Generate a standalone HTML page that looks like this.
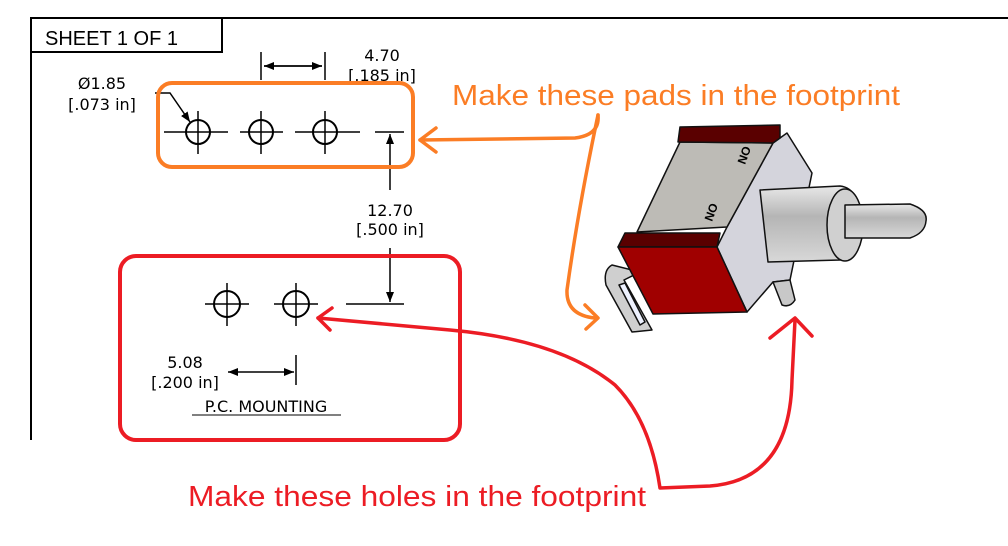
<!DOCTYPE html>
<html><head><meta charset="utf-8">
<style>
html,body{margin:0;padding:0;background:#fff;}
svg{display:block;font-family:"Liberation Sans","DejaVu Sans",sans-serif;}
.dim{font-family:"DejaVu Sans","Liberation Sans",sans-serif;}
</style></head>
<body>
<svg width="1008" height="546" viewBox="0 0 1008 546" xmlns="http://www.w3.org/2000/svg">
<defs>
<marker id="ah" markerWidth="10" markerHeight="8" refX="10" refY="4" orient="auto" markerUnits="userSpaceOnUse"><path d="M0,0 L10,4 L0,8 Z" fill="#000"/></marker>
<linearGradient id="cyl" x1="0" y1="0" x2="0" y2="1"><stop offset="0" stop-color="#e8e8e8"/><stop offset="0.4" stop-color="#b5b5b5"/><stop offset="1" stop-color="#d8d8d8"/></linearGradient>
</defs>
<g stroke="#000" stroke-width="2" fill="none">
<path d="M31,440 L31,18 L1008,18"/>
<rect x="31" y="18" width="191" height="34"/>
</g>
<text x="45" y="45" font-size="20" fill="#000">SHEET 1 OF 1</text>

<g stroke="#000" stroke-width="1.5" fill="none">
<circle cx="198" cy="132" r="12" stroke-width="2"/>
<circle cx="261" cy="132" r="12" stroke-width="2"/>
<circle cx="325" cy="132" r="12" stroke-width="2"/>
<path d="M164,132 H228 M240,132 H283 M295,132 H360 M375,132 H404"/>
<path d="M198,111 V154 M261,111 V154 M325,111 V154"/>
</g>
<g stroke="#000" stroke-width="1.5" fill="none">
<path d="M261,52 V80 M325,52 V80"/>
<path d="M264,66 H322" marker-end="url(#ah)"/>
<path d="M322,66 H264" marker-end="url(#ah)"/>
</g>
<text class="dim" x="382" y="61" font-size="16" text-anchor="middle">4.70</text>
<text class="dim" x="382" y="81" font-size="16" text-anchor="middle">[.185 in]</text>
<text class="dim" x="102" y="89" font-size="16" text-anchor="middle">Ø1.85</text>
<text class="dim" x="102" y="110" font-size="16" text-anchor="middle">[.073 in]</text>
<path d="M155,93 H170 L190,122" stroke="#000" stroke-width="1.5" fill="none" marker-end="url(#ah)"/>
<g stroke="#000" stroke-width="1.5" fill="none">
<path d="M390,190 V134" marker-end="url(#ah)"/>
<path d="M390,248 V302" marker-end="url(#ah)"/>
<path d="M346,304 H404"/>
</g>
<text class="dim" x="390" y="216" font-size="16" text-anchor="middle">12.70</text>
<text class="dim" x="390" y="235" font-size="16" text-anchor="middle">[.500 in]</text>
<g stroke="#000" stroke-width="1.5" fill="none">
<circle cx="227" cy="304" r="13" stroke-width="2"/>
<circle cx="296" cy="304" r="13" stroke-width="2"/>
<path d="M205,304 H249 M274,304 H318 M227,283 V326 M296,283 V326"/>
<path d="M296,355 V385"/>
<path d="M260,372 H294" marker-end="url(#ah)"/>
<path d="M260,372 H228" marker-end="url(#ah)"/>
</g>
<text class="dim" x="185" y="368" font-size="16" text-anchor="middle">5.08</text>
<text class="dim" x="185" y="388" font-size="16" text-anchor="middle">[.200 in]</text>
<text class="dim" x="266" y="412" font-size="16" text-anchor="middle">P.C. MOUNTING</text>
<line x1="192" y1="415" x2="341" y2="415" stroke="#000" stroke-width="1"/>

<rect x="158" y="83" width="255" height="84" rx="14" fill="none" stroke="#fb7d25" stroke-width="4"/>
<rect x="120" y="256" width="340" height="184" rx="16" fill="none" stroke="#ec1c24" stroke-width="4"/>

<g stroke="#111" stroke-width="1.5" stroke-linejoin="round">
<path d="M612,265 Q603,270 606,285 L632,332 L652,330 L624,280 L640,272 Z" fill="#cfcfcf"/>
<path d="M619,285 L640,325 L645,322 L625,283 Z" fill="#eef2ff"/>
<path d="M727,227 L773,143 L787,133 L812,173 L790,280 L773,282 L747,312 L717,247 Z" fill="#d4d4dc"/>
<path d="M773,282 L790,280 L795,300 Q790,308 782,305 Z" fill="#c8c8c8"/>
<path d="M680,142 L773,143 L727,227 L637,232 Z" fill="#bdbbb6"/>
<path d="M680,127 L780,125 L780,138 L773,143 L678,142 Z" fill="#5a0000"/>
<path d="M625,233 L720,233 L717,247 L618,247 Z" fill="#5a0000"/>
<path d="M618,247 L717,247 L747,312 L653,314 Z" fill="#a00000"/>
<path d="M760,190 L840,186 Q860,188 862,225 Q858,258 840,260 L768,262 Z" fill="url(#cyl)"/>
<ellipse cx="845" cy="225" rx="18" ry="36" fill="#d0d0d0"/>
<path d="M845,205 L910,204 Q928,210 926,221 Q925,233 910,238 L845,238 Z" fill="url(#cyl)"/>
<text x="745" y="165" font-size="12" font-weight="bold" stroke="none" fill="#000" transform="rotate(-70 745 165)">NO</text>
<text x="712" y="222" font-size="12" font-weight="bold" stroke="none" fill="#000" transform="rotate(-70 712 222)">NO</text>
</g>

<text x="452" y="105" font-size="29" fill="#fb7d25" textLength="448" lengthAdjust="spacingAndGlyphs">Make these pads in the footprint</text>
<g stroke="#fb7d25" stroke-width="3.5" fill="none" stroke-linecap="round" stroke-linejoin="round">
<path d="M598,115 Q600,135 575,138 L420,140"/>
<path d="M436,128 L420,140 L436,152"/>
<path d="M598,115 Q578,210 567,290 Q566,315 595,318"/>
<path d="M585,305 L598,318 L586,329"/>
</g>
<text x="188" y="506" font-size="29" fill="#ec1c24" textLength="458" lengthAdjust="spacingAndGlyphs">Make these holes in the footprint</text>
<g stroke="#ec1c24" stroke-width="3.5" fill="none" stroke-linecap="round" stroke-linejoin="round">
<path d="M318,318 L450,330 Q560,340 615,385 Q650,420 660,488 L710,486 Q790,480 792,380 L795,320"/>
<path d="M332,308 L318,318 L330,330"/>
<path d="M770,338 L795,318 L812,336"/>
</g>
</svg>
</body></html>
